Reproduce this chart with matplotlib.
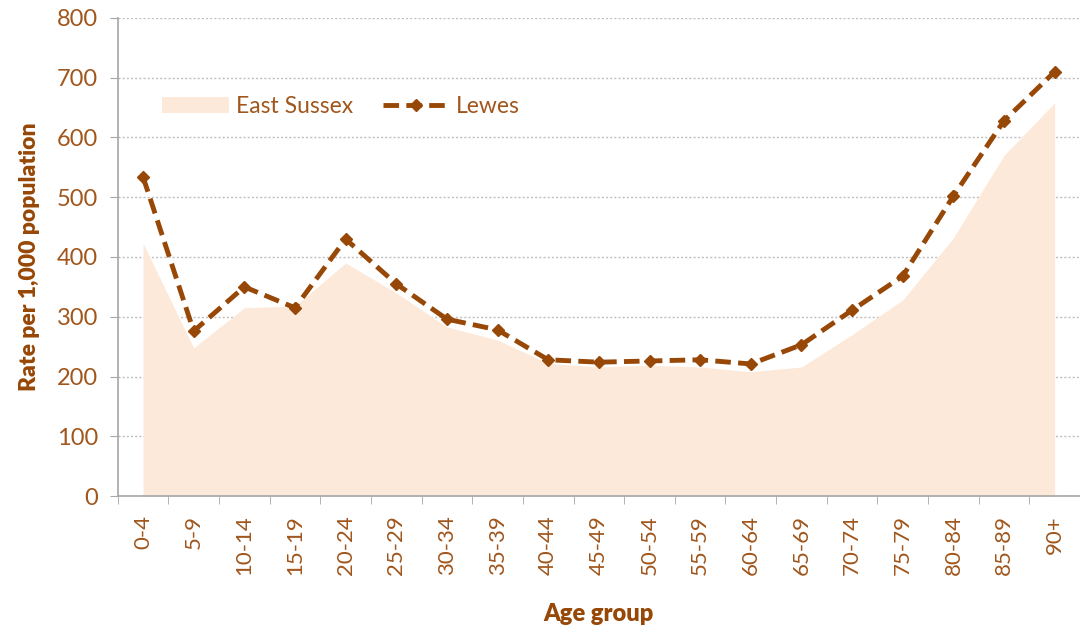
import matplotlib.pyplot as plt
import numpy as np

age_groups = ["0-4", "5-9", "10-14", "15-19", "20-24", "25-29", "30-34", "35-39",
              "40-44", "45-49", "50-54", "55-59", "60-64", "65-69", "70-74",
              "75-79", "80-84", "85-89", "90+"]
east_sussex = [423, 248, 315, 318, 390, 340, 283, 261, 222, 216, 219, 216,
               208, 216, 270, 328, 432, 570, 658]
lewes = [534, 276, 350, 315, 430, 355, 296, 278, 228, 224, 226, 228,
         221, 253, 311, 368, 502, 628, 710]

fill_col = "#FDE9D9"
line_col = "#974706"
text_col = "#A0561C"
label_col = "#974706"

plt.rcParams["font.family"] = ["Lato", "DejaVu Sans"]

fig = plt.figure(figsize=(10.8, 6.33), dpi=100)
ax = fig.add_axes([0.109, 0.2164, 0.891, 0.7552])

x = np.arange(len(age_groups))
ax.fill_between(x, east_sussex, 0, color=fill_col, lw=0, label="East Sussex", zorder=2)
ax.plot(x, lewes, color=line_col, lw=3.5, dashes=(3.2, 1.5), marker="D", ms=6.5,
        mfc=line_col, mec=line_col, label="Lewes", zorder=3)

ax.set_xlim(-0.5, len(age_groups) - 0.5)
ax.set_ylim(0, 800)
ax.set_yticks(np.arange(0, 801, 100))
ax.yaxis.grid(True, color="#BFBFBF", ls=(0, (1.5, 1.5)), lw=1, zorder=0)
ax.set_axisbelow(True)

ax.set_xticks(x)
ax.set_xticklabels(age_groups, rotation=90, fontsize=16, color=text_col)
ax.set_xticks(np.arange(-0.5, len(age_groups), 1), minor=True)
ax.tick_params(axis="x", which="major", length=0, pad=14)
ax.tick_params(axis="x", which="minor", length=6, color="#A6A6A6", direction="out")
ax.tick_params(axis="y", length=6, color="#A6A6A6", direction="out",
               labelsize=17, labelcolor=text_col, pad=8)

for s in ["top", "right"]:
    ax.spines[s].set_visible(False)
for s in ["left", "bottom"]:
    ax.spines[s].set_color("#A6A6A6")
    ax.spines[s].set_linewidth(1.2)

ax.set_xlabel("Age group", fontsize=17, fontweight="heavy", color=label_col, labelpad=20)
ax.set_ylabel("Rate per 1,000 population", fontsize=16.5, fontweight="heavy",
              color=label_col, labelpad=12)

leg = ax.legend(loc="upper left", bbox_to_anchor=(0.025, 0.88), ncol=2, frameon=False,
                fontsize=16.5, handlelength=2.9, handletextpad=0.3, columnspacing=1.3)
for t in leg.get_texts():
    t.set_color(text_col)

fig.savefig("out.png", dpi=100)
